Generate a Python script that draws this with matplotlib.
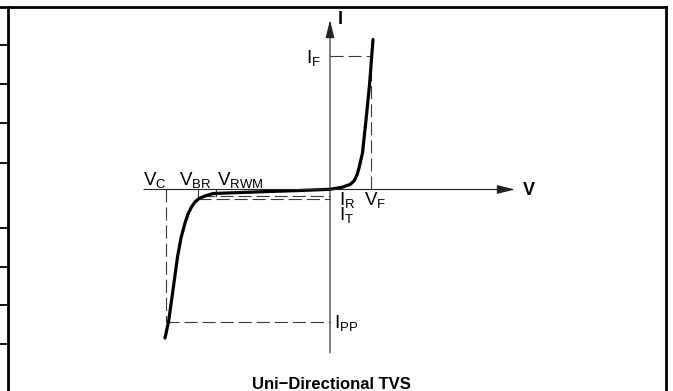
import matplotlib
matplotlib.use("Agg")
import matplotlib.pyplot as plt
from matplotlib.lines import Line2D

plt.rcParams['font.family'] = ['Liberation Sans', 'DejaVu Sans']
plt.rcParams['mathtext.fontset'] = 'custom'
plt.rcParams['mathtext.rm'] = 'Liberation Sans'
plt.rcParams['mathtext.it'] = 'Liberation Sans'
plt.rcParams['lines.scale_dashes'] = False

# I-V curve of the TVS (schematic units, origin where the axes cross)
curve_v = [-165, -161.5, -157, -152.5, -149, -145, -142, -138.5, -135, -131,
           -125, -117, -67, -30, 0, 12, 20, 24, 27, 29, 32.5, 36, 39.5, 43]
curve_i = [-148.5, -132.5, -100.5, -67.5, -48.5, -33.5, -24.5, -17.5, -12.5, -9,
           -6.5, -4, -2.2, -1, 0.2, 2.2, 5, 8.5, 14.5, 21.5, 36.5, 69.5, 104.5, 150]

# characteristic points
V_C, V_BR, V_RWM, V_F = -164, -132, -114, 41
I_F, I_PP, I_R, I_T = 133.5, -132.5, -6.5, -10

# axis extents
v_axis = (-186, 185)
i_axis = (-163.5, 169.5)

DASH = (9.4, 3.6)
dash_col = '#3a3a3a'

fig = plt.figure(figsize=(6.73, 3.91), dpi=100)
ax = fig.add_axes([0, 0, 1, 1])
ax.set_xlim(-330, 343)
ax.set_ylim(-201.5, 189.5)
ax.axis('off')

# axes with arrows
ax.annotate('', xy=(v_axis[1], 0), xytext=(v_axis[0], 0),
            arrowprops=dict(arrowstyle='-|>,head_length=1.1,head_width=0.27',
                            mutation_scale=10, lw=0.8, color='#222222',
                            shrinkA=0, shrinkB=0))
ax.annotate('', xy=(0, i_axis[1]), xytext=(0, i_axis[0]),
            arrowprops=dict(arrowstyle='-|>,head_length=1.1,head_width=0.27',
                            mutation_scale=10, lw=0.8, color='#222222',
                            shrinkA=0, shrinkB=0))
ax.text(v_axis[1] + 8, -1, 'V', fontsize=13, fontweight='bold', va='center', ha='left')
ax.text(8, i_axis[1], 'I', fontsize=13, fontweight='bold', va='center', ha='left')

# dashed guide lines
guides = [
    ([V_C, V_C], [0, I_PP]),
    ([V_C, 0], [I_PP, I_PP]),
    ([V_BR + 4, 0], [I_R, I_R]),
    ([V_BR, 0], [I_T, I_T]),
    ([V_F, V_F], [0, I_F]),
    ([0, V_F], [I_F, I_F]),
]
for xs, ys in guides:
    ln, = ax.plot(xs, ys, color=dash_col, lw=0.8)
    ln.set_dashes(DASH)

# short solid ticks for V_BR and V_RWM
ax.plot([V_BR, V_BR], [0, I_T], color=dash_col, lw=0.8)
ax.plot([V_RWM, V_RWM], [0, I_R], color=dash_col, lw=0.8)

# the curve
ax.plot(curve_v, curve_i, color='black', lw=2.3, solid_capstyle='round',
        solid_joinstyle='round')

# labels
fs = 13.5
ax.text(-187, 4.5, r'$\mathregular{V_C}$', fontsize=fs, va='baseline', ha='left')
ax.text(-151, 4.5, r'$\mathregular{V_{BR}}$', fontsize=fs, va='baseline', ha='left')
ax.text(-113, 4.5, r'$\mathregular{V_{RWM}}$', fontsize=fs, va='baseline', ha='left')
ax.text(9, -15.5, r'$\mathregular{I_R}$', fontsize=fs, va='baseline', ha='left')
ax.text(9, -30.5, r'$\mathregular{I_T}$', fontsize=fs, va='baseline', ha='left')
ax.text(34, -15.5, r'$\mathregular{V_F}$', fontsize=fs, va='baseline', ha='left')
ax.text(-24, 126.2, r'$\mathregular{I_F}$', fontsize=fs, va='baseline', ha='left')
ax.text(4, -138.5, r'$\mathregular{I_{PP}}$', fontsize=fs, va='baseline', ha='left')

ax.text(1, -199.5, 'Uni\u2212Directional TVS', fontsize=12, fontweight='bold',
        va='baseline', ha='center')

# surrounding frame (figure coordinates)
W, H = 673.0, 391.0
frame = [
    ([0, 666 / W], [1 - 7 / H, 1 - 7 / H], 2.0),
    ([8 / W, 8 / W], [0, 1 - 7 / H], 2.0),
    ([666 / W, 666 / W], [0, 1 - 7 / H], 2.0),
]
for y in [45, 84, 123, 163, 228, 267, 305, 344]:
    frame.append(([0, 8 / W], [1 - y / H, 1 - y / H], 1.3))
for xs, ys, lw in frame:
    fig.add_artist(Line2D(xs, ys, color='black', lw=lw, solid_capstyle='projecting'))

fig.savefig('out.png', dpi=100)
